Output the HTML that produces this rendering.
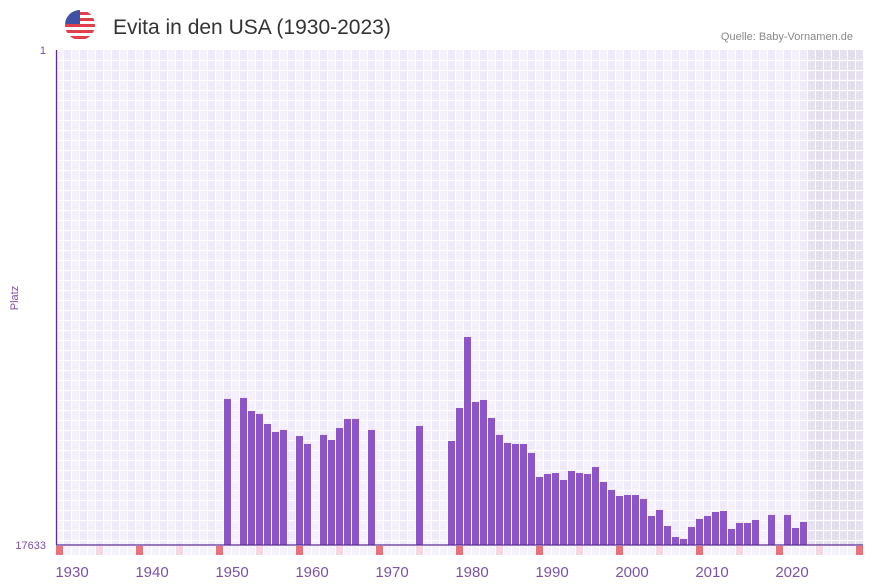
<!DOCTYPE html>
<html><head><meta charset="utf-8"><style>
body{margin:0;background:#fff;width:873px;height:587px;overflow:hidden;font-family:"Liberation Sans",sans-serif}
svg{display:block}
</style></head><body>
<svg id="c" width="873" height="587">
<defs><clipPath id="fc"><circle cx="80" cy="25" r="15"/></clipPath></defs>
<g clip-path="url(#fc)">
<rect x="65" y="10" width="30" height="30" fill="#fff"/>
<rect x="65" y="12" width="30" height="3" fill="#e0404a"/><rect x="65" y="18" width="30" height="3" fill="#e0404a"/><rect x="65" y="24" width="30" height="3" fill="#e0404a"/><rect x="65" y="30" width="30" height="3" fill="#e0404a"/><rect x="65" y="36" width="30" height="3" fill="#e0404a"/>
<rect x="65" y="10" width="15" height="14" fill="#3f51a5"/>
</g>
<text x="113" y="34" font-size="21" fill="#333">Evita in den USA (1930-2023)</text>
<text x="853" y="40" font-size="11" fill="#888" text-anchor="end">Quelle: Baby-Vornamen.de</text>
<g id="grid"></g>
<g id="bars"></g>
<g id="marks"></g>
<line x1="56.5" y1="50" x2="56.5" y2="545" stroke="#5b2c91" stroke-width="1.3"/>
<line x1="56" y1="545" x2="863" y2="545" stroke="#5b2c91" stroke-width="1.3"/>
<text x="46" y="54" font-size="11" fill="#7b4fa8" text-anchor="end">1</text>
<text x="46" y="549" font-size="11" fill="#7b4fa8" text-anchor="end">17633</text>
<text x="18" y="298" font-size="11" fill="#7b4fa8" text-anchor="middle" transform="rotate(-90 18 298)">Platz</text>
<g id="xt"></g>
</svg>
<script>
const years=[1950,1952,1953,1954,1955,1956,1957,1959,1960,1962,1963,1964,1965,1966,1968,1974,1978,1979,1980,1981,1982,1983,1984,1985,1986,1987,1988,1989,1990,1991,1992,1993,1994,1995,1996,1997,1998,1999,2000,2001,2002,2003,2004,2005,2006,2007,2008,2009,2010,2011,2012,2013,2014,2015,2016,2018,2020,2021,2022];
const ranks=[12432,12396,12859,12966,13322,13607,13536,13750,14035,13714,13892,13465,13144,13144,13536,13394,13928,12753,10224,12539,12468,13109,13714,13999,14035,14035,14356,15211,15104,15069,15317,14997,15069,15104,14855,15389,15674,15888,15852,15852,15994,16600,16386,16956,17348,17419,16991,16706,16600,16457,16421,17063,16849,16849,16742,16564,16564,17027,16813];
const tickYears=[1930,1940,1950,1960,1970,1980,1990,2000,2010,2020];
const minRank=1,maxRank=17633,firstYear=1929,lastDataYear=2022;
const X0=56,SW=8,Y0=50,Y1=545;
const ns="http://www.w3.org/2000/svg";
function xs(y){return X0+(y-firstYear)*SW;}
function ys(r){return Y0+(r-minRank)/(maxRank-minRank)*(Y1-Y0);}
function el(t,a,p){const e=document.createElementNS(ns,t);for(const k in a)e.setAttribute(k,a[k]);document.getElementById(p).appendChild(e);return e;}
for(let s=0;s<101;s++){
  const yr=firstYear+s,x=X0+s*SW;
  const future=yr>lastDataYear;
  const g=el('rect',{x:x,y:Y0,width:Math.min(SW,863-x),height:Y1-Y0,fill:future?(s%2?'#e2dcec':'#e6e1ee'):(s%2?'#efe9f9':'#f4f0fc')},'grid');
  
  
  const m=el('rect',{x:x,y:546,width:7,height:9,fill:s%10===0?'#e8737a':(s%10===5?'#f6d6e0':'#f6f2fb')},'marks');
  
  
}
for(let s=0;s<=101;s++){const v=el('line',{x1:X0+s*SW-0.5,y1:Y0,x2:X0+s*SW-0.5,y2:Y1,stroke:'#fff','stroke-width':1},'grid');}
for(let y=Y0+10;y<Y1;y+=10){const h=el('line',{x1:X0,y1:y+0.5,x2:863,y2:y+0.5,stroke:'#fff','stroke-width':1.2},'grid');}
years.forEach((yr,i)=>{
  const top=ys(ranks[i]);
  const b=el('rect',{x:xs(yr),y:top,width:7,height:Y1-top,fill:'#8e55c8'},'bars');
  
  
});
tickYears.forEach(t=>{
  const e=el('text',{x:xs(t)+8,y:577,'font-size':15,fill:'#7c52a8','text-anchor':'middle'},'xt');
  e.textContent=t;
  
  
});
</script>
</body></html>
